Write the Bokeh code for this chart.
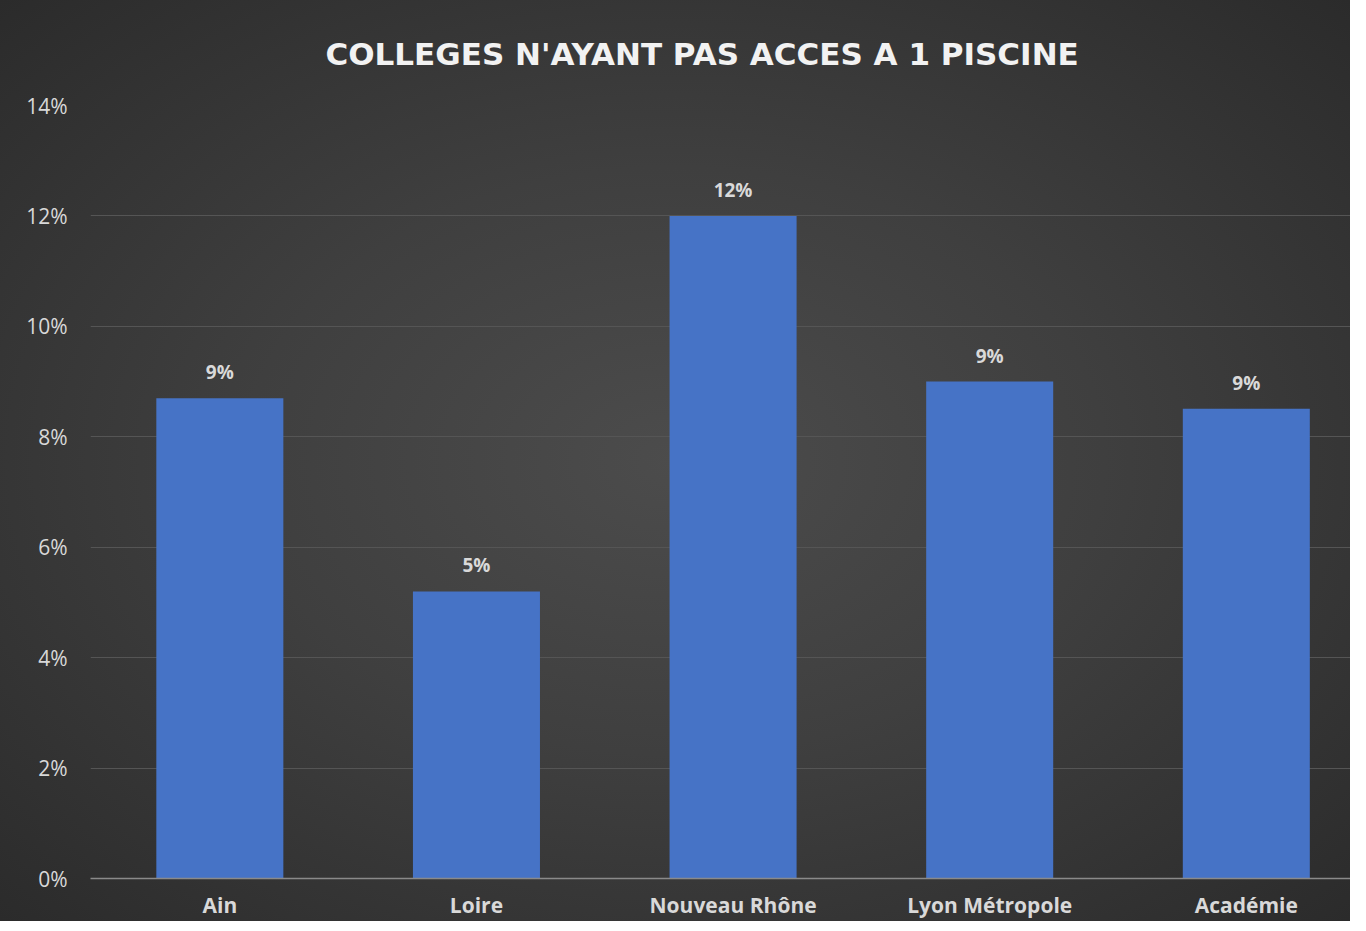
from bokeh.plotting import figure
from bokeh.models import ColumnDataSource, NumeralTickFormatter, FixedTicker, LabelSet, Range1d
from bokeh.core.properties import value
from bokeh.embed import file_html
from bokeh.resources import INLINE

categories = ["Ain", "Loire", "Nouveau Rhône", "Lyon Métropole", "Académie"]
values = [0.087, 0.052, 0.120, 0.090, 0.0851]
labels = [f"{int(v * 100 + 0.5)}%" for v in values]
y_ticks = [0, 0.02, 0.04, 0.06, 0.08, 0.10, 0.12, 0.14]

positions = list(range(len(categories)))
src = ColumnDataSource(dict(x=positions, cat=categories, val=values, lab=labels))

TXT = "#d9d9d9"
FONT = "Open Sans"

p = figure(x_range=Range1d(-0.504, 4.406), y_range=(0, 0.14), width=1350, height=921,
           output_backend="svg", toolbar_location=None,
           background_fill_color=None, border_fill_color=None,
           min_border_left=90, min_border_right=0, min_border_bottom=40,
           min_border_top=105, outline_line_color=None)
p.styles = {"background": "radial-gradient(ellipse at 50% 50%, #4c4c4c 0%, #3f3f3f 45%, #2b2b2b 100%)"}

p.title.text = "COLLEGES N'AYANT PAS ACCES A 1 PISCINE"
p.title.align = "left"
p.title.offset = 235
p.title.text_font = "DejaVu Sans"
p.title.text_font_size = "31px"
p.title.text_font_style = "bold"
p.title.text_color = "#f2f2f2"
p.title.standoff = 67

p.vbar(x="x", top="val", width=0.495, source=src,
       fill_color="#4673c6", line_color=None)

p.add_layout(LabelSet(x="x", y="val", text="lab", source=src,
                      y_offset=13, text_align="center", text_baseline="bottom",
                      text_font=value(FONT), text_font_size=value("19px"),
                      text_font_style="bold", text_color=TXT))

p.yaxis.ticker = FixedTicker(ticks=y_ticks)
p.yaxis.formatter = NumeralTickFormatter(format="0%")
p.yaxis.axis_line_color = None
p.yaxis.major_tick_line_color = None
p.yaxis.minor_tick_line_color = None
p.yaxis.major_label_text_color = TXT
p.yaxis.major_label_text_font = FONT
p.yaxis.major_label_text_font_size = "21px"
p.yaxis.major_label_standoff = 17

p.xaxis.ticker = FixedTicker(ticks=positions)
p.xaxis.major_label_overrides = {i: c for i, c in zip(positions, categories)}
p.xaxis.axis_line_color = "#8a8a8a"
p.xaxis.axis_line_width = 1.5
p.xaxis.major_tick_line_color = None
p.xaxis.minor_tick_line_color = None
p.xaxis.major_tick_out = 0
p.xaxis.major_label_text_color = TXT
p.xaxis.major_label_text_font = FONT
p.xaxis.major_label_text_font_size = "21px"
p.xaxis.major_label_text_font_style = "bold"
p.xaxis.major_label_text_line_height = 1.0
p.xaxis.major_label_standoff = 12

p.xgrid.grid_line_color = None
p.ygrid.grid_line_color = "#555555"
p.ygrid.grid_line_width = 1

open("out.html", "w").write(file_html(p, INLINE))
